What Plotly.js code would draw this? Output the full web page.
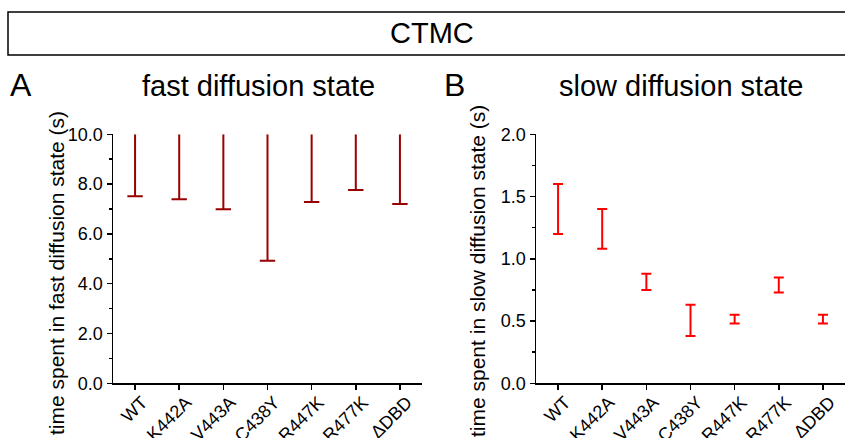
<!DOCTYPE html>
<html>
<head>
<meta charset="utf-8">
<script src="https://cdn.plot.ly/plotly-3.0.1.min.js"></script>
<style>html,body{margin:0;padding:0;background:#fff;}#chart{width:845px;height:438px;}</style>
</head>
<body>
<div id="chart"></div>
<script>
// ---- data ----
const categories = ["WT", "K442A", "V443A", "C438Y", "R447K", "R477K", "\u0394DBD"];
// fast diffusion state: interval lower / upper bound (s)
const fastLower = [7.51, 7.39, 6.99, 4.92, 7.28, 7.76, 7.20];
const fastUpper = [10.0, 10.0, 10.0, 10.0, 10.0, 10.0, 10.0];
// slow diffusion state: interval lower / upper bound (s)
const slowLower = [1.20, 1.08, 0.75, 0.38, 0.48, 0.73, 0.48];
const slowUpper = [1.60, 1.40, 0.88, 0.63, 0.55, 0.85, 0.55];

const darkRed = "#990000";
const red = "#ff0000";
const FONT = "Liberation Sans, Arial, sans-serif";

// vertical segments for fast state (no cap at top, cap at bottom)
const segX = [], segY = [];
categories.forEach((c, i) => { segX.push(c, c, null); segY.push(fastLower[i], fastUpper[i], null); });

const traces = [
  {x: segX, y: segY, xaxis: "x", yaxis: "y", mode: "lines", type: "scatter",
   line: {color: darkRed, width: 2}, hoverinfo: "skip", showlegend: false},
  {x: categories, y: fastLower, xaxis: "x", yaxis: "y", mode: "markers", type: "scatter",
   marker: {symbol: "line-ew", size: 11, line: {color: darkRed, width: 2}}, showlegend: false},
  {x: categories, y: slowLower, xaxis: "x2", yaxis: "y2", mode: "markers", type: "scatter",
   marker: {size: 1, opacity: 0},
   error_y: {type: "data", symmetric: false,
             array: slowUpper.map((u, i) => u - slowLower[i]),
             arrayminus: slowLower.map(() => 0),
             color: red, thickness: 2, width: 5},
   showlegend: false}
];

const W = 845, H = 438;
const px = v => v / W, py = v => 1 - v / H;

const axisCommon = {
  showgrid: false, zeroline: false, showline: true, linecolor: "#000", linewidth: 1.5,
  ticks: "outside", ticklen: 5, tickwidth: 1.5, tickcolor: "#000",
  tickfont: {family: FONT, size: 18, color: "#000"}, automargin: false, fixedrange: true
};

const layout = {
  width: W, height: H,
  margin: {l: 0, r: 0, t: 0, b: 0},
  paper_bgcolor: "#fff", plot_bgcolor: "#fff",
  showlegend: false,
  xaxis: Object.assign({}, axisCommon, {
    domain: [px(113), px(422)], anchor: "y", type: "category",
    categoryorder: "array", categoryarray: categories,
    range: [-0.5, 6.5], tickangle: -45, ticklabelshift: 7, ticklabelstandoff: -5
  }),
  yaxis: Object.assign({}, axisCommon, {
    domain: [py(383.3), py(134.3)], anchor: "x",
    range: [0, 10], dtick: 2, tickformat: ".1f",
    minor: {ticks: "outside", ticklen: 3, dtick: 1, tickwidth: 1.5, tickcolor: "#000"}
  }),
  xaxis2: Object.assign({}, axisCommon, {
    domain: [px(536), 1], anchor: "y2", type: "category",
    categoryorder: "array", categoryarray: categories,
    range: [-0.5, 6.5], tickangle: -45, ticklabelshift: 7, ticklabelstandoff: -5
  }),
  yaxis2: Object.assign({}, axisCommon, {
    domain: [py(383.3), py(134.3)], anchor: "x2",
    range: [0, 2], dtick: 0.5, tickformat: ".1f",
    minor: {ticks: "outside", ticklen: 3, dtick: 0.25, tickwidth: 1.5, tickcolor: "#000"}
  }),
  shapes: [
    {type: "rect", xref: "paper", yref: "paper", x0: px(8), x1: 1.01, y0: py(55), y1: py(12),
     line: {color: "#000", width: 1.5}, fillcolor: "rgba(0,0,0,0)"}
  ],
  annotations: [
    {text: "CTMC", xref: "paper", yref: "paper", x: px(432), y: py(33), xanchor: "center", yanchor: "middle",
     showarrow: false, font: {family: FONT, size: 29, color: "#000"}},
    {text: "A", xref: "paper", yref: "paper", x: px(8), y: py(85), xanchor: "left", yanchor: "middle",
     showarrow: false, font: {family: FONT, size: 32, color: "#000"}},
    {text: "fast diffusion state", xref: "paper", yref: "paper", x: px(258), y: py(86), xanchor: "center", yanchor: "middle",
     showarrow: false, font: {family: FONT, size: 29, color: "#000"}},
    {text: "B", xref: "paper", yref: "paper", x: px(442), y: py(85), xanchor: "left", yanchor: "middle",
     showarrow: false, font: {family: FONT, size: 32, color: "#000"}},
    {text: "slow diffusion state", xref: "paper", yref: "paper", x: px(681), y: py(86), xanchor: "center", yanchor: "middle",
     showarrow: false, font: {family: FONT, size: 29, color: "#000"}},
    {text: "time spent in fast diffusion state (s)", xref: "paper", yref: "paper", x: px(56), y: py(273),
     xanchor: "center", yanchor: "middle", textangle: -90,
     showarrow: false, font: {family: FONT, size: 21, color: "#000"}},
    {text: "time spent in slow diffusion state (s)", xref: "paper", yref: "paper", x: px(477), y: py(271),
     xanchor: "center", yanchor: "middle", textangle: -90,
     showarrow: false, font: {family: FONT, size: 21, color: "#000"}}
  ]
};

Plotly.newPlot("chart", traces, layout, {displayModeBar: false, staticPlot: true});
</script>
</body>
</html>
